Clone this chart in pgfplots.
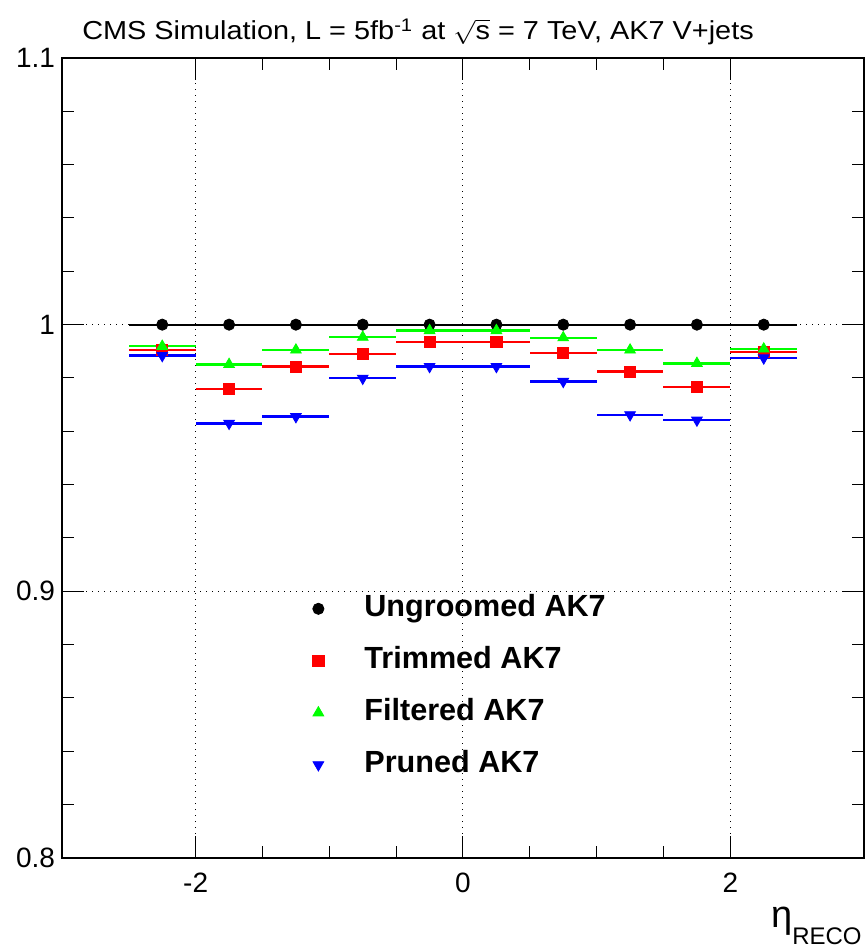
\documentclass[border=0pt]{standalone}
\usepackage{pgfplots}
\pgfplotsset{compat=1.18}
\usepackage{fontspec}
\setmainfont{Liberation Sans}
\definecolor{rred}{RGB}{255,0,0}
\definecolor{rgreen}{RGB}{0,255,0}
\definecolor{rblue}{RGB}{0,0,255}
\begin{document}
\begin{tikzpicture}
\begin{axis}[
  scale only axis, width=401pt, height=400pt,
  at={(0,0)}, anchor=south west,
  xmin=-3, xmax=3, ymin=0.8, ymax=1.1,
  xtick={-2,0,2}, minor x tick num=3,
  ytick={0.8,0.9,1,1.1}, minor y tick num=4,
  tick align=inside,
  major tick length=11pt, minor tick length=6pt,
  grid=major,
  major grid style={black, line width=0.5pt, dash pattern=on 0.6pt off 2.4pt},
  /pgf/number format/assume math mode=true,
  tick label style={font=\fontsize{14}{16}\selectfont},
  xticklabel style={yshift=-4pt},
  axis line style={line width=0.8pt},
  every tick/.style={black, line width=0.5pt},
  legend style={draw=none, fill=none, inner sep=0pt,
    at={(0.3117,0.3295)}, anchor=north west,
    font=\bfseries\fontsize{15.3}{17}\selectfont,
    nodes={text height=11pt, text depth=3pt, inner ysep=0pt},
    row sep=12pt},
  legend cell align=left,
  legend image code/.code={\path[draw=none,fill=none] (-3pt,-3pt) rectangle (21pt,3pt); \draw[#1] plot coordinates {(0pt,0pt)};},
]
\addplot[black, only marks, mark=*, mark size=2.8pt,
  error bars/.cd, x dir=both, x fixed=0.25, error mark=none,
  error bar style={line width=1.1pt, black}]
  coordinates {(-2.25,1.0) (-1.75,1.0) (-1.25,1.0) (-0.75,1.0) (-0.25,1.0)
               (0.25,1.0) (0.75,1.0) (1.25,1.0) (1.75,1.0) (2.25,1.0)};
\addlegendentry{Ungroomed AK7}
\addplot[rred, only marks, mark=square*, mark size=2.8pt,
  error bars/.cd, x dir=both, x fixed=0.25, error mark=none,
  error bar style={line width=1.2pt, rred}]
  coordinates {(-2.25,0.9906) (-1.75,0.9759) (-1.25,0.9843) (-0.75,0.9890) (-0.25,0.9934)
               (0.25,0.9935) (0.75,0.9893) (1.25,0.9824) (1.75,0.9767) (2.25,0.9898)};
\addlegendentry{Trimmed AK7}
\addplot[rgreen, only marks, mark=triangle*, mark size=3.1pt,
  error bars/.cd, x dir=both, x fixed=0.25, error mark=none,
  error bar style={line width=1.2pt, rgreen}]
  coordinates {(-2.25,0.9919) (-1.75,0.9851) (-1.25,0.9905) (-0.75,0.9953) (-0.25,0.9978)
               (0.25,0.9978) (0.75,0.9951) (1.25,0.9905) (1.75,0.9855) (2.25,0.9909)};
\addlegendentry{Filtered AK7}
\addplot[rblue, only marks, mark=triangle*, mark size=3.1pt, mark options={rotate=180},
  error bars/.cd, x dir=both, x fixed=0.25, error mark=none,
  error bar style={line width=1.2pt, rblue}]
  coordinates {(-2.25,0.9884) (-1.75,0.9630) (-1.25,0.9655) (-0.75,0.9799) (-0.25,0.9843)
               (0.25,0.9843) (0.75,0.9787) (1.25,0.9662) (1.75,0.9642) (2.25,0.9875)};
\addlegendentry{Pruned AK7}
\end{axis}
\node[font=\fontsize{13}{15}\selectfont, anchor=base] at (178pt,409pt)
  {\scalebox{1.11}[1]{CMS Simulation, L = 5fb\textsuperscript{-1} at $\sqrt{\mbox{s}}$ = 7 TeV, AK7 V+jets}};
\node[anchor=base east, inner sep=0pt] at (400pt,-34.5pt)
  {{\fontsize{19}{19}\selectfont η}\raisebox{-8.5pt}{\fontsize{12}{12}\selectfont RECO}};
\pgfresetboundingbox
\useasboundingbox (-31pt,-44pt) rectangle (402.5pt,429pt);
\end{tikzpicture}
\end{document}
